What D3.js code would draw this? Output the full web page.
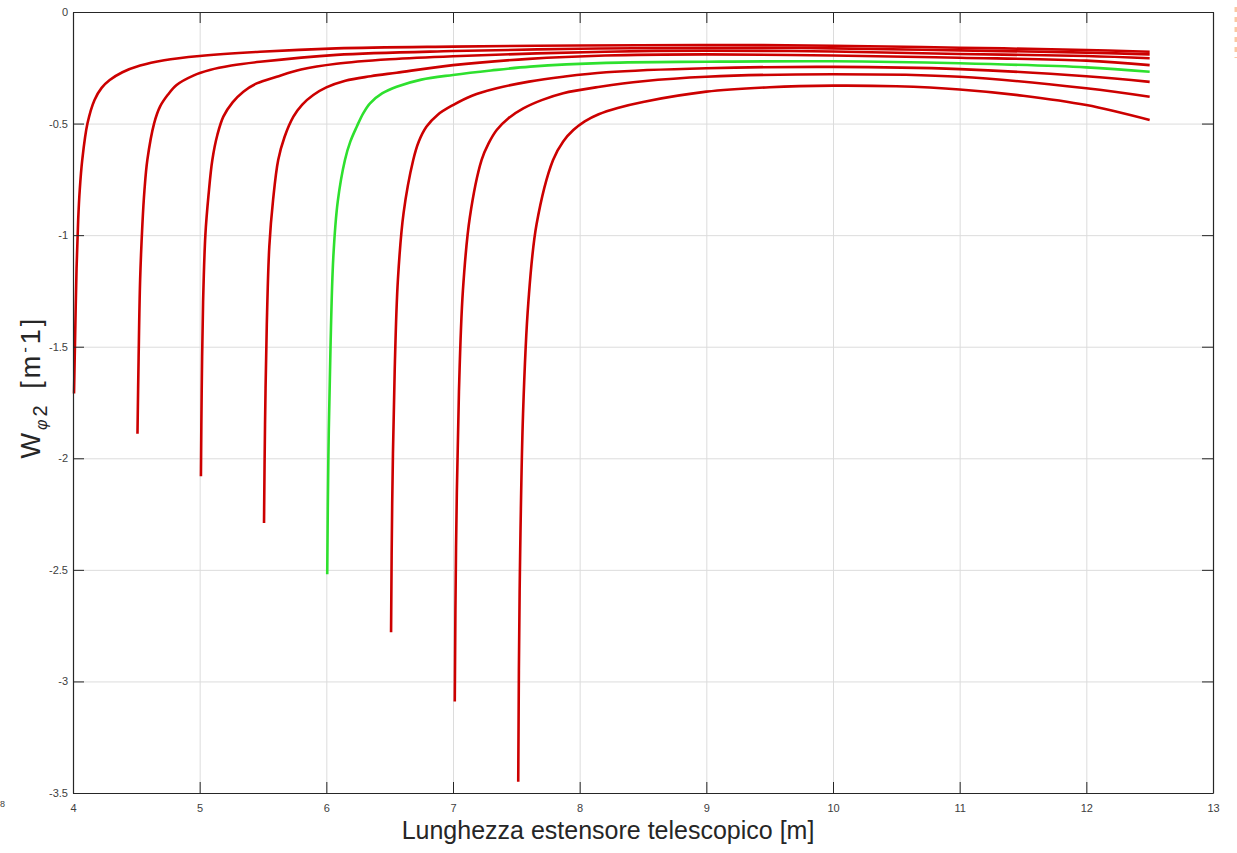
<!DOCTYPE html>
<html>
<head>
<meta charset="utf-8">
<script src="https://cdn.jsdelivr.net/npm/d3@7"></script>
<style>
    body { margin: 0; background: #fff; }
    .axis path, .axis line { stroke: #262626; }
    .axis text { fill: #404040; font-family: "Liberation Sans", Arial, sans-serif; font-size: 11px; }
    .grid line { stroke: #dcdcdc; }
    .grid path { display: none; }
</style>
</head>
<body>
<div id="chart"></div>
<script>

// tick values
let xTicks = [4, 5, 6, 7, 8, 9, 10, 11, 12, 13];
let yTicks = [0, -0.5, -1, -1.5, -2, -2.5, -3, -3.5];

// one curve per starting length (4 ... 7.5 m)
let curve40x = [4.008, 4.017, 4.028, 4.041, 4.053, 4.073, 4.114, 4.17, 4.226, 4.29, 4.39, 4.53, 4.72, 5.0, 5.476, 6.08, 7.0, 8.0, 9.0, 10.0, 11.0, 12.0, 12.5];
let curve40y = [-1.71, -1.45, -1.15, -0.93, -0.8, -0.663, -0.5, -0.394, -0.34, -0.305, -0.27, -0.24, -0.216, -0.197, -0.178, -0.163, -0.155, -0.150, -0.148, -0.151, -0.160, -0.170, -0.178];

let curve45x = [4.509, 4.518, 4.53, 4.548, 4.564, 4.587, 4.64, 4.687, 4.75, 4.818, 4.95, 5.08, 5.25, 5.476, 6.08, 7.0, 8.0, 9.0, 10.0, 11.0, 12.0, 12.5];
let curve45y = [-1.89, -1.55, -1.2, -0.95, -0.8, -0.663, -0.5, -0.424, -0.37, -0.327, -0.285, -0.26, -0.24, -0.223, -0.192, -0.175, -0.165, -0.160, -0.163, -0.172, -0.182, -0.190];

let curve50x = [5.01, 5.016, 5.027, 5.045, 5.07, 5.10, 5.14, 5.187, 5.26, 5.345, 5.45, 5.608, 5.8, 6.08, 6.5, 7.0, 8.2, 9.0, 10.0, 11.0, 12.0, 12.5];
let curve50y = [-2.08, -1.7, -1.3, -1.0, -0.82, -0.663, -0.55, -0.469, -0.405, -0.357, -0.32, -0.29, -0.258, -0.232, -0.212, -0.198, -0.178, -0.173, -0.177, -0.188, -0.197, -0.207];

let curve55x = [5.508, 5.516, 5.53, 5.55, 5.58, 5.62, 5.67, 5.74, 5.81, 5.897, 6.0, 6.15, 6.35, 6.555, 7.0, 7.6, 8.2, 9.0, 10.0, 11.0, 12.0, 12.5];
let curve55y = [-2.29, -1.85, -1.4, -1.05, -0.84, -0.663, -0.56, -0.469, -0.415, -0.372, -0.338, -0.308, -0.288, -0.272, -0.238, -0.21, -0.195, -0.190, -0.195, -0.205, -0.218, -0.238];

let curve60x = [6.007, 6.016, 6.033, 6.055, 6.09, 6.147, 6.19, 6.24, 6.29, 6.345, 6.44, 6.555, 6.75, 7.0, 7.3, 7.61, 8.21, 9.0, 10.0, 11.0, 12.0, 12.5];
let curve60y = [-2.52, -2.0, -1.5, -1.1, -0.85, -0.663, -0.58, -0.514, -0.455, -0.409, -0.365, -0.335, -0.303, -0.282, -0.262, -0.245, -0.228, -0.223, -0.221, -0.230, -0.248, -0.268];

let curve65x = [6.511, 6.52, 6.54, 6.565, 6.61, 6.686, 6.73, 6.79, 6.88, 7.0, 7.15, 7.345, 7.6, 7.87, 8.21, 9.0, 10.0, 11.0, 12.0, 12.5];
let curve65y = [-2.78, -2.2, -1.6, -1.2, -0.9, -0.663, -0.58, -0.514, -0.46, -0.417, -0.375, -0.342, -0.312, -0.29, -0.270, -0.252, -0.246, -0.256, -0.288, -0.313];

let curve70x = [7.014, 7.024, 7.047, 7.078, 7.133, 7.226, 7.28, 7.345, 7.44, 7.555, 7.7, 7.87, 8.16, 8.5, 9.0, 10.0, 11.0, 12.0, 12.5];
let curve70y = [-3.09, -2.4, -1.7, -1.25, -0.92, -0.663, -0.59, -0.529, -0.475, -0.432, -0.395, -0.364, -0.335, -0.31, -0.29, -0.279, -0.290, -0.342, -0.380];

let curve75x = [7.515, 7.526, 7.553, 7.595, 7.66, 7.79, 7.87, 7.95, 8.04, 8.15, 8.3, 8.5, 9.0, 9.5, 10.0, 10.5, 11.0, 11.5, 12.0, 12.5];
let curve75y = [-3.45, -2.6, -1.8, -1.3, -0.95, -0.663, -0.58, -0.529, -0.49, -0.458, -0.43, -0.403, -0.357, -0.337, -0.330, -0.333, -0.347, -0.375, -0.417, -0.484];

let curveColors = ["#cc0000", "#cc0000", "#cc0000", "#cc0000", "#2ee02e", "#cc0000", "#cc0000", "#cc0000"];


// SVG drawing area
let margin = {top: 12, right: 24, bottom: 60, left: 73};
let width = 1237 - margin.left - margin.right,
    height = 853 - margin.top - margin.bottom;

let root = d3.select("#chart").append("svg")
    .attr("width", 1237)
    .attr("height", 853);

let svg = root.append("g")
    .attr("transform", "translate(" + margin.left + "," + margin.top + ")");

// Scales
let x = d3.scaleLinear().domain([4, 13]).range([0, width]);
let y = d3.scaleLinear().domain([-3.5, 0]).range([height, 0]);

// grid lines
svg.append("g")
    .attr("class", "grid")
    .attr("transform", "translate(0," + height + ")")
    .call(d3.axisBottom(x).tickValues(xTicks).tickSize(-height).tickFormat(""));

svg.append("g")
    .attr("class", "grid")
    .call(d3.axisLeft(y).tickValues(yTicks).tickSize(-width).tickFormat(""));

// curves
let line = d3.line()
    .curve(d3.curveCatmullRom.alpha(0.5))
    .x(d => x(d[0]))
    .y(d => y(d[1]));

let curves = [
    [curve40x, curve40y], [curve45x, curve45y], [curve50x, curve50y], [curve55x, curve55y],
    [curve60x, curve60y], [curve65x, curve65y], [curve70x, curve70y], [curve75x, curve75y]
].map(c => c[0].map((v, i) => [v, c[1][i]]));

svg.selectAll(".curve")
    .data(curves)
    .enter().append("path")
    .attr("class", "curve")
    .attr("d", line)
    .attr("fill", "none")
    .attr("stroke", (d, i) => curveColors[i])
    .attr("stroke-width", 2.6)
    .attr("stroke-linejoin", "round");

// axes, ticks pointing inwards (box on)
svg.append("g")
    .attr("class", "axis")
    .attr("transform", "translate(0," + height + ")")
    .call(d3.axisBottom(x).tickValues(xTicks).tickSizeInner(-11).tickSizeOuter(0).tickPadding(11).tickFormat(d3.format("d")));

svg.append("g")
    .attr("class", "axis")
    .call(d3.axisLeft(y).tickValues(yTicks).tickSizeInner(-11).tickSizeOuter(0).tickPadding(5).tickFormat(d => d));

svg.append("g")
    .attr("class", "axis")
    .call(d3.axisTop(x).tickValues(xTicks).tickSizeInner(-11).tickSizeOuter(0).tickFormat(""));

svg.append("g")
    .attr("class", "axis")
    .attr("transform", "translate(" + width + ",0)")
    .call(d3.axisRight(y).tickValues(yTicks).tickSizeInner(-11).tickSizeOuter(0).tickFormat(""));

svg.selectAll(".axis .domain").attr("stroke-width", 1.2);

// axis labels
root.append("text")
    .attr("x", 608)
    .attr("y", 839)
    .attr("text-anchor", "middle")
    .attr("fill", "#262626")
    .style("font-family", "'Liberation Sans', Arial, sans-serif")
    .style("font-size", "25px")
    .text("Lunghezza estensore telescopico [m]");

let yLabel = root.append("text")
    .attr("transform", "translate(40,387) rotate(-90)")
    .attr("text-anchor", "middle")
    .attr("fill", "#262626")
    .style("font-family", "'Liberation Sans', Arial, sans-serif")
    .style("font-size", "27px")
    .style("letter-spacing", "3px");
yLabel.append("tspan").text("W");
yLabel.append("tspan").attr("dy", 7).style("font-size", "16px").style("font-style", "italic").text("φ");
yLabel.append("tspan").style("font-size", "20px").text("2");
yLabel.append("tspan").attr("dy", -7).attr("dx", 3).text(" [m");
yLabel.append("tspan").attr("dy", -10).style("font-size", "17px").text("-");
yLabel.append("tspan").attr("dy", 10).text("1]");

// bits of the neighbouring figure, cut off at the edges
root.append("line")
    .attr("x1", 1236).attr("x2", 1236)
    .attr("y1", 7).attr("y2", 58)
    .attr("stroke", "#fbc8a2")
    .attr("stroke-width", 3)
    .attr("stroke-dasharray", "5,5");

root.append("text")
    .attr("x", 0)
    .attr("y", 807)
    .attr("fill", "#404040")
    .style("font-family", "'Liberation Sans', Arial, sans-serif")
    .style("font-size", "9px")
    .text("8");

</script>
</body>
</html>
